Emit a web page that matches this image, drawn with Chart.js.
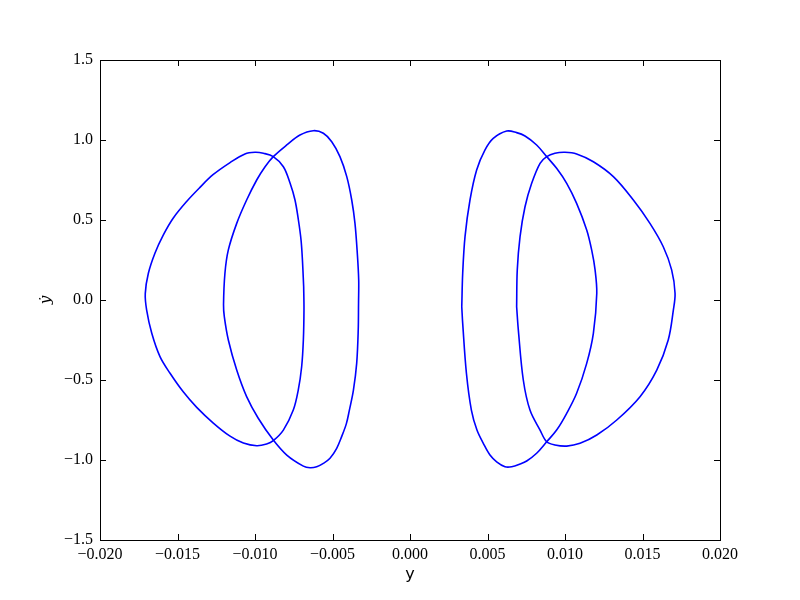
<!DOCTYPE html>
<html>
<head>
<meta charset="utf-8">
<script src="https://cdn.jsdelivr.net/npm/chart.js@4/dist/chart.umd.min.js"></script>
<style>
  html, body { margin: 0; padding: 0; background: #fff; }
  #wrap { width: 800px; height: 600px; }
</style>
</head>
<body>
<div id="wrap"><canvas id="poincare"></canvas></div>
<script>
// points, [y, ydot], chaque boucle fermée
const boucleGaucheExt = [
  [-0.00686, 0.083], [-0.00684, -0.060], [-0.00688, -0.250], [-0.00699, -0.417], [-0.00721, -0.563],
  [-0.00753, -0.688], [-0.00817, -0.813], [-0.00882, -0.879], [-0.00925, -0.900], [-0.00989, -0.911],
  [-0.01075, -0.894], [-0.01161, -0.851], [-0.01269, -0.769], [-0.01376, -0.671], [-0.01463, -0.574],
  [-0.01548, -0.458], [-0.01613, -0.354], [-0.01666, -0.208], [-0.01699, -0.063], [-0.01708, 0.040],
  [-0.01688, 0.167], [-0.01645, 0.294], [-0.01592, 0.406], [-0.01527, 0.513], [-0.01441, 0.616],
  [-0.01355, 0.704], [-0.01271, 0.783], [-0.01161, 0.859], [-0.01065, 0.913], [-0.01000, 0.923],
  [-0.00946, 0.917], [-0.00882, 0.896], [-0.00817, 0.833], [-0.00774, 0.731], [-0.00742, 0.625],
  [-0.00720, 0.500], [-0.00703, 0.375], [-0.00694, 0.250], [-0.00686, 0.083]
];
const boucleGaucheInt = [
  [-0.00332, -0.020], [-0.00334, -0.188], [-0.00344, -0.396], [-0.00365, -0.563], [-0.00391, -0.688],
  [-0.00410, -0.771], [-0.00441, -0.854], [-0.00473, -0.927], [-0.00516, -0.989], [-0.00559, -1.021],
  [-0.00602, -1.042], [-0.00645, -1.048], [-0.00688, -1.038], [-0.00795, -0.969], [-0.00882, -0.875],
  [-0.00979, -0.739], [-0.01054, -0.604], [-0.01118, -0.438], [-0.01172, -0.250], [-0.01198, -0.104],
  [-0.01203, -0.030], [-0.01194, 0.167], [-0.01172, 0.313], [-0.01118, 0.479], [-0.01054, 0.625],
  [-0.00989, 0.750], [-0.00935, 0.833], [-0.00882, 0.896], [-0.00795, 0.969], [-0.00710, 1.031],
  [-0.00624, 1.058], [-0.00559, 1.042], [-0.00505, 0.989], [-0.00452, 0.896], [-0.00408, 0.771],
  [-0.00376, 0.625], [-0.00355, 0.479], [-0.00340, 0.292], [-0.00331, 0.125], [-0.00332, -0.020]
];
const boucleDroiteInt = [
  [0.00334, -0.042], [0.00340, 0.167], [0.00355, 0.396], [0.00387, 0.625], [0.00430, 0.813],
  [0.00484, 0.938], [0.00537, 1.010], [0.00624, 1.056], [0.00688, 1.046], [0.00742, 1.025],
  [0.00817, 0.969], [0.00882, 0.896], [0.00946, 0.823], [0.01011, 0.729], [0.01075, 0.604],
  [0.01140, 0.438], [0.01172, 0.313], [0.01194, 0.188], [0.01205, 0.042], [0.01183, -0.208],
  [0.01140, -0.396], [0.01075, -0.583], [0.01011, -0.708], [0.00946, -0.813], [0.00882, -0.886],
  [0.00817, -0.958], [0.00753, -1.006], [0.00710, -1.025], [0.00656, -1.042], [0.00613, -1.042],
  [0.00559, -1.011], [0.00516, -0.969], [0.00473, -0.896], [0.00432, -0.813], [0.00396, -0.688],
  [0.00364, -0.458], [0.00340, -0.146], [0.00334, -0.042]
];
const boucleDroiteExt = [
  [0.00688, -0.042], [0.00692, 0.188], [0.00710, 0.396], [0.00742, 0.583], [0.00785, 0.729],
  [0.00839, 0.854], [0.00882, 0.896], [0.00935, 0.917], [0.01000, 0.923], [0.01075, 0.913],
  [0.01183, 0.864], [0.01312, 0.771], [0.01441, 0.625], [0.01548, 0.479], [0.01634, 0.333],
  [0.01688, 0.188], [0.01710, 0.042], [0.01699, -0.063], [0.01666, -0.250], [0.01592, -0.438],
  [0.01484, -0.604], [0.01334, -0.750], [0.01205, -0.844], [0.01097, -0.896], [0.01011, -0.913],
  [0.00935, -0.906], [0.00882, -0.886], [0.00839, -0.813], [0.00774, -0.688], [0.00731, -0.500],
  [0.00699, -0.188], [0.00688, -0.042]
];

const ticksX = [-0.020, -0.015, -0.010, -0.005, 0.000, 0.005, 0.010, 0.015, 0.020];
const ticksY = [-1.5, -1.0, -0.5, 0.0, 0.5, 1.0, 1.5];

const bleu = 'rgb(0,0,255)';
const policeTicks = { family: '"Liberation Serif", "DejaVu Serif", serif', size: 16 };

function enMoins(s) { return s.replace('-', '\u2212'); }

function unDataset(points) {
  return {
    data: points.map(p => ({ x: p[0], y: p[1] })),
    showLine: true,
    borderColor: bleu,
    borderWidth: 1.6,
    pointRadius: 0,
    tension: 0.35,
    fill: false
  };
}

// cadre + graduations vers l'intérieur, comme matplotlib
const cadreMatplotlib = {
  id: 'cadreMatplotlib',
  afterDraw(chart) {
    const ctx = chart.ctx;
    const a = chart.chartArea;
    const sx = chart.scales.x, sy = chart.scales.y;
    ctx.save();
    ctx.strokeStyle = '#000';
    ctx.lineWidth = 1;
    ctx.beginPath();
    ticksX.forEach(v => {
      const px = Math.round(sx.getPixelForValue(v)) + 0.5;
      ctx.moveTo(px, a.bottom); ctx.lineTo(px, a.bottom - 6);
      ctx.moveTo(px, a.top); ctx.lineTo(px, a.top + 6);
    });
    ticksY.forEach(v => {
      const py = Math.round(sy.getPixelForValue(v)) + 0.5;
      ctx.moveTo(a.left, py); ctx.lineTo(a.left + 6, py);
      ctx.moveTo(a.right, py); ctx.lineTo(a.right - 6, py);
    });
    ctx.stroke();
    ctx.strokeRect(Math.round(a.left) + 0.5, Math.round(a.top) + 0.5,
                   Math.round(a.right - a.left), Math.round(a.bottom - a.top));
    ctx.restore();
  }
};

const ctx = document.getElementById('poincare').getContext('2d');
new Chart(ctx, {
  type: 'scatter',
  data: {
    datasets: [
      unDataset(boucleGaucheExt),
      unDataset(boucleGaucheInt),
      unDataset(boucleDroiteInt),
      unDataset(boucleDroiteExt)
    ]
  },
  options: {
    responsive: true,
    maintainAspectRatio: false,
    animation: false,
    devicePixelRatio: 1,
    layout: { padding: { left: 0, top: 60, right: 80, bottom: 0 } },
    plugins: { legend: { display: false }, tooltip: { enabled: false } },
    scales: {
      x: {
        type: 'linear',
        min: -0.02, max: 0.02,
        afterFit: scale => { scale.height = 60; },
        afterBuildTicks: scale => { scale.ticks = ticksX.map(v => ({ value: v })); },
        grid: { display: false, drawTicks: false },
        border: { display: false },
        ticks: {
          padding: 5,
          color: '#000',
          font: policeTicks,
          maxRotation: 0,
          callback: v => enMoins(Number(v).toFixed(3))
        },
        title: {
          display: true,
          text: 'y',
          color: '#000',
          font: { family: '"DejaVu Sans", sans-serif', size: 16 },
          padding: { top: 0, bottom: 16 }
        }
      },
      y: {
        type: 'linear',
        min: -1.5, max: 1.5,
        afterFit: scale => { scale.width = 100; },
        afterBuildTicks: scale => { scale.ticks = ticksY.map(v => ({ value: v })); },
        grid: { display: false, drawTicks: false },
        border: { display: false },
        ticks: {
          padding: 7,
          color: '#000',
          font: policeTicks,
          callback: v => enMoins(Number(v).toFixed(1))
        },
        title: {
          display: true,
          text: 'y\u0307',
          color: '#000',
          font: { family: '"DejaVu Serif", serif', size: 15, style: 'italic' },
          padding: { top: 37, bottom: 0 }
        }
      }
    }
  },
  plugins: [cadreMatplotlib]
});
</script>
</body>
</html>
